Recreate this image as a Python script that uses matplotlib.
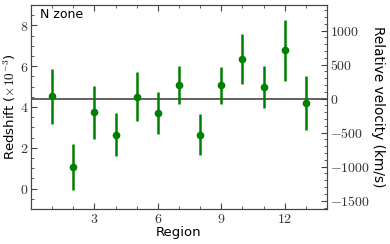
import matplotlib
matplotlib.use("Agg")
import matplotlib.pyplot as plt
from matplotlib.ticker import MultipleLocator, FuncFormatter, FixedLocator
import numpy as np

regions = [1, 2, 3, 4, 5, 6, 7, 8, 9, 10, 11, 12, 13]
redshift = [4.52, 1.07, 3.75, 2.65, 4.51, 3.72, 5.08, 2.65, 5.06, 6.34, 4.98, 6.78, 4.21]
err = [1.33, 1.13, 1.30, 1.05, 1.20, 1.02, 0.93, 0.99, 0.89, 1.23, 1.02, 1.50, 1.33]
xticks = [3, 6, 9, 12]
z0 = 4.41
c_kms = 299.792

plt.rcParams['mathtext.fontset'] = 'cm'

fig = plt.figure(figsize=(3.9, 2.44), dpi=100)
ax = fig.add_axes([31/390, 1 - 209/244, (327-31)/390, (209-5)/244])
ax.errorbar(regions, redshift, yerr=err, fmt='o', color='green', ms=4.5,
            elinewidth=1.8, capsize=0, zorder=3)
ax.axhline(z0, color='#555555', lw=1.3, zorder=2)
ax.set_xlim(0, 14)
ax.set_ylim(-1, 9)
ax.xaxis.set_major_locator(FixedLocator(xticks))
ax.xaxis.set_minor_locator(MultipleLocator(1))
ax.yaxis.set_major_locator(MultipleLocator(2))
ax.yaxis.set_minor_locator(MultipleLocator(0.5))
fmt = FuncFormatter(lambda v, p: r'$%g$' % v)
ax.xaxis.set_major_formatter(fmt)
ax.yaxis.set_major_formatter(fmt)
ax.tick_params(which='both', direction='in', top=True, right=False, labelsize=10, pad=2,
               labelcolor='#333333', color='#444444')
ax.tick_params(which='major', length=4)
ax.tick_params(which='minor', length=2)
for s in ax.spines.values():
    s.set_color('#444444')
ax.set_xlabel('Region', fontsize=9.5, labelpad=0)
ax.set_ylabel(r'Redshift ($\times10^{-3}$)', fontsize=9.5, labelpad=1)
ax.text(0.03, 0.985, 'N zone', transform=ax.transAxes, fontsize=9, va='top', ha='left')

ax2 = ax.twinx()
ax2.set_ylim((-1 - z0) * c_kms, (9 - z0) * c_kms)
ax2.yaxis.set_major_locator(MultipleLocator(500))
ax2.yaxis.set_minor_locator(MultipleLocator(100))
ax2.yaxis.set_major_formatter(fmt)
ax2.tick_params(which='both', direction='in', labelsize=10, pad=2,
                labelcolor='#333333', color='#444444')
ax2.tick_params(which='major', length=4)
ax2.tick_params(which='minor', length=2)
for s in ax2.spines.values():
    s.set_color('#444444')
ax2.set_ylabel('Relative velocity (km/s)', fontsize=9.8, rotation=270, labelpad=11)

fig.savefig('out.png', dpi=100)
